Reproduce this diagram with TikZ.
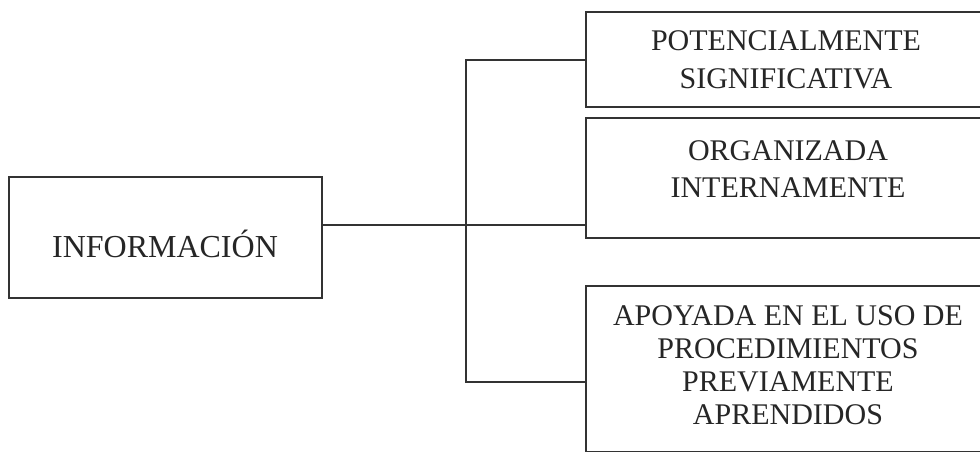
\documentclass[tikz,border=0pt]{standalone}
\usepackage{fontspec}
\setmainfont{Liberation Serif}
\begin{document}
\begin{tikzpicture}[x=1pt,y=-1pt,
  line width=1.5pt,
  ink/.style={color=black!82},
  framebox/.style={draw=black!80, line width=1.5pt, rectangle, inner sep=0pt, outer sep=0pt, anchor=north west},
  label/.style={text=black!85, inner sep=0pt, align=center},
  link/.style={draw=black!80, line width=1.5pt}]
\useasboundingbox (0,0) rectangle (980,451);
\clip (0,0) rectangle (980,451);
\fill[white] (0,0) rectangle (980,451);

% boxes
\node[framebox, minimum width=313pt, minimum height=121pt] (info) at (9,177) {};
\node[framebox, minimum width=404pt, minimum height=95pt]  (pot)  at (586,12) {};
\node[framebox, minimum width=404pt, minimum height=120pt] (org)  at (586,118) {};
\node[framebox, minimum width=404pt, minimum height=166pt] (apo)  at (586,286) {};

% texts
\node[label, anchor=base, font=\fontsize{32}{38}\selectfont] (tinfo) at (165,257) {INFORMACIÓN};
\node[label, anchor=north, font=\fontsize{30}{38}\selectfont] (tpot) at (786,30)
  {POTENCIALMENTE\\SIGNIFICATIVA};
\node[label, anchor=north, font=\fontsize{30}{37}\selectfont] (torg) at (788,140)
  {ORGANIZADA\\INTERNAMENTE};
\node[label, anchor=north, font=\fontsize{30}{33}\selectfont] (tapo) at (788,305)
  {APOYADA EN EL USO DE\\PROCEDIMIENTOS\\PREVIAMENTE\\APRENDIDOS};

% connector tree
\coordinate (j)  at (466,225);
\coordinate (t1) at (466,60);
\coordinate (t3) at (466,382);
\draw[link] (pot.west |- t1) -- (t1) -- (t3) -- (apo.west |- t3);
\draw[link] (info.east |- j) -- (org.west |- j);
\end{tikzpicture}
\end{document}
